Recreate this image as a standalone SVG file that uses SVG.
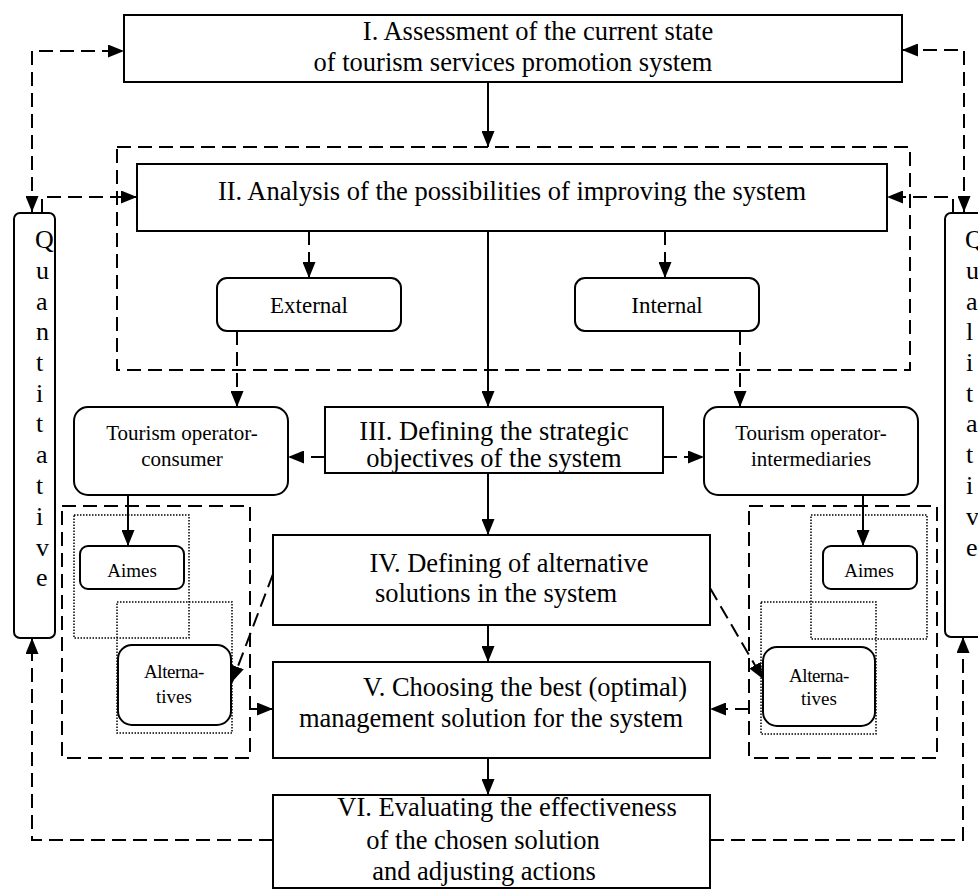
<svg xmlns="http://www.w3.org/2000/svg" width="978" height="891" viewBox="0 0 978 891">
  <defs>
    <marker id="ah" markerWidth="16" markerHeight="13" refX="16" refY="6.5" orient="auto-start-reverse" markerUnits="userSpaceOnUse">
      <path d="M0,0 L16,6.5 L0,13 z" fill="#000"/>
    </marker>
    <style>
      .box { fill: #fff; stroke: #000; stroke-width: 2; }
      .grp { fill: none; stroke: #000; stroke-width: 2; stroke-dasharray: 14 7; }
      .dot { fill: none; stroke: #000; stroke-width: 1.5; stroke-dasharray: 1.5 1.5; }
      .solid { fill: none; stroke: #000; stroke-width: 2; marker-end: url(#ah); }
      .dash { fill: none; stroke: #000; stroke-width: 2; stroke-dasharray: 14 7; marker-end: url(#ah); }
      .both { marker-start: url(#ah); }
      .plain { fill: none; stroke: #000; stroke-width: 2; }
      text { font-family: "Liberation Serif", "Times New Roman", serif; fill: #000; }
      .big { font-size: 26.5px; text-anchor: middle; }
      .mid { font-size: 23px; text-anchor: middle; }
      .sm { font-size: 21px; text-anchor: middle; }
      .xs { font-size: 19px; text-anchor: middle; }
      .col { font-size: 26px; }
    </style>
  </defs>

  <!-- dashed group frames -->
  <rect class="grp" x="117" y="147" width="793" height="223"/>
  <rect class="grp" x="62" y="506" width="188" height="252"/>
  <rect class="grp" x="749" y="506" width="188" height="252"/>
  <!-- dotted sub-frames -->
  <rect class="dot" x="74" y="515" width="115" height="123"/>
  <rect class="dot" x="117" y="602" width="115" height="131"/>
  <rect class="dot" x="811" y="515" width="116" height="124"/>
  <rect class="dot" x="761" y="602" width="115" height="132"/>

  <g id="stage1">
    <rect class="box" x="124" y="15" width="778" height="67"/>
    <text class="big" x="538" y="40">I. Assessment of the current state</text>
    <text class="big" x="513" y="71">of tourism services promotion system</text>
  </g>

  <g id="stage2">
    <rect class="box" x="137" y="164" width="750" height="67"/>
    <text class="big" x="512" y="200">II. Analysis of the possibilities of improving the system</text>
  </g>

  <g id="external">
    <rect class="box" x="217" y="278" width="184" height="53" rx="10"/>
    <text class="mid" x="309" y="313">External</text>
  </g>

  <g id="internal">
    <rect class="box" x="575" y="278" width="184" height="53" rx="10"/>
    <text class="mid" x="667" y="313">Internal</text>
  </g>

  <g id="stage3">
    <rect class="box" x="325" y="407" width="338" height="66"/>
    <text class="big" x="494" y="440">III. Defining the strategic</text>
    <text class="big" x="494" y="467">objectives of the system</text>
  </g>

  <g id="operator-consumer">
    <rect class="box" x="74" y="407" width="214" height="88" rx="14"/>
    <text class="sm" x="182" y="440">Tourism operator-</text>
    <text class="sm" x="182" y="466">consumer</text>
  </g>

  <g id="operator-intermediaries">
    <rect class="box" x="704" y="407" width="214" height="88" rx="14"/>
    <text class="sm" x="811" y="440">Tourism operator-</text>
    <text class="sm" x="811" y="466">intermediaries</text>
  </g>

  <g id="stage4">
    <rect class="box" x="273" y="535" width="437" height="90"/>
    <text class="big" x="509" y="572">IV. Defining of alternative</text>
    <text class="big" x="496" y="602">solutions in the system</text>
  </g>

  <g id="stage5">
    <rect class="box" x="273" y="662" width="437" height="96"/>
    <text class="big" x="525" y="696">V. Choosing the best (optimal)</text>
    <text class="big" x="491" y="727">management solution for the system</text>
  </g>

  <g id="stage6">
    <rect class="box" x="273" y="795" width="437" height="93"/>
    <text class="big" x="507" y="816">VI. Evaluating the effectiveness</text>
    <text class="big" x="483" y="849">of the chosen solution</text>
    <text class="big" x="484" y="880">and adjusting actions</text>
  </g>

  <g id="aims-left">
    <rect class="box" x="80" y="546" width="104" height="43" rx="8"/>
    <text class="xs" x="132" y="577">Aimes</text>
  </g>

  <g id="alternatives-left">
    <rect class="box" x="118" y="645" width="113" height="80" rx="14"/>
    <text class="xs" x="174" y="678" letter-spacing="-0.4">Alterna-</text>
    <text class="xs" x="174" y="703">tives</text>
  </g>

  <g id="aims-right">
    <rect class="box" x="823" y="546" width="94" height="43" rx="8"/>
    <text class="xs" x="869" y="577">Aimes</text>
  </g>

  <g id="alternatives-right">
    <rect class="box" x="763" y="647" width="112" height="79" rx="14"/>
    <text class="xs" x="819" y="682" letter-spacing="-0.4">Alterna-</text>
    <text class="xs" x="819" y="705">tives</text>
  </g>

  <g id="quantitative">
    <rect class="box" x="14" y="213" width="41" height="425" rx="6"/>
    <text class="col" x="35" y="248">Q</text>
    <text class="col" x="36" y="279">u</text>
    <text class="col" x="36" y="310">a</text>
    <text class="col" x="36" y="340">n</text>
    <text class="col" x="36" y="371">t</text>
    <text class="col" x="36" y="402">i</text>
    <text class="col" x="36" y="432">t</text>
    <text class="col" x="36" y="463">a</text>
    <text class="col" x="36" y="494">t</text>
    <text class="col" x="36" y="525">i</text>
    <text class="col" x="36" y="556">v</text>
    <text class="col" x="36" y="586">e</text>
  </g>

  <g id="qualitative">
    <rect class="box" x="945" y="213" width="50" height="424" rx="6"/>
    <text class="col" x="965" y="248">Q</text>
    <text class="col" x="966" y="279">u</text>
    <text class="col" x="966" y="310">a</text>
    <text class="col" x="966" y="340">l</text>
    <text class="col" x="966" y="371">i</text>
    <text class="col" x="966" y="402">t</text>
    <text class="col" x="966" y="432">a</text>
    <text class="col" x="966" y="463">t</text>
    <text class="col" x="966" y="494">i</text>
    <text class="col" x="966" y="525">v</text>
    <text class="col" x="966" y="556">e</text>
  </g>

  <g id="connectors">
    <!-- main sequence -->
    <path class="solid" d="M488,82 V147"/>
    <path class="solid" d="M488,231 V407"/>
    <path class="solid" d="M488,473 V535"/>
    <path class="solid" d="M488,625 V662"/>
    <path class="solid" d="M488,758 V795"/>
    <!-- stage II branches -->
    <path class="dash" d="M309,231 V278"/>
    <path class="dash" d="M665,231 V278"/>
    <path class="dash" d="M237,331 V407"/>
    <path class="dash" d="M740,331 V407"/>
    <path class="dash" d="M325,457 H288"/>
    <path class="dash" d="M663,457 H704"/>
    <path class="solid" d="M128,495 V546"/>
    <path class="solid" d="M863,495 V546"/>
    <!-- alternatives -->
    <path class="dash" d="M273,574 L232,682"/>
    <path class="dash" d="M710,588 L763,679"/>
    <path class="solid" d="M250,709 H273"/>
    <path class="dash" d="M749,709 H710"/>
    <!-- feedback loops -->
    <path class="dash both" d="M32,212 V51 H124"/>
    <path class="dash" d="M42,213 V197 H137"/>
    <path class="dash both" d="M964,212 V50 H902"/>
    <path class="dash" d="M953,213 V197 H887"/>
    <path class="dash" d="M273,840 H32 V638"/>
    <path class="dash" d="M710,840 H963 V637"/>
  </g>
</svg>
